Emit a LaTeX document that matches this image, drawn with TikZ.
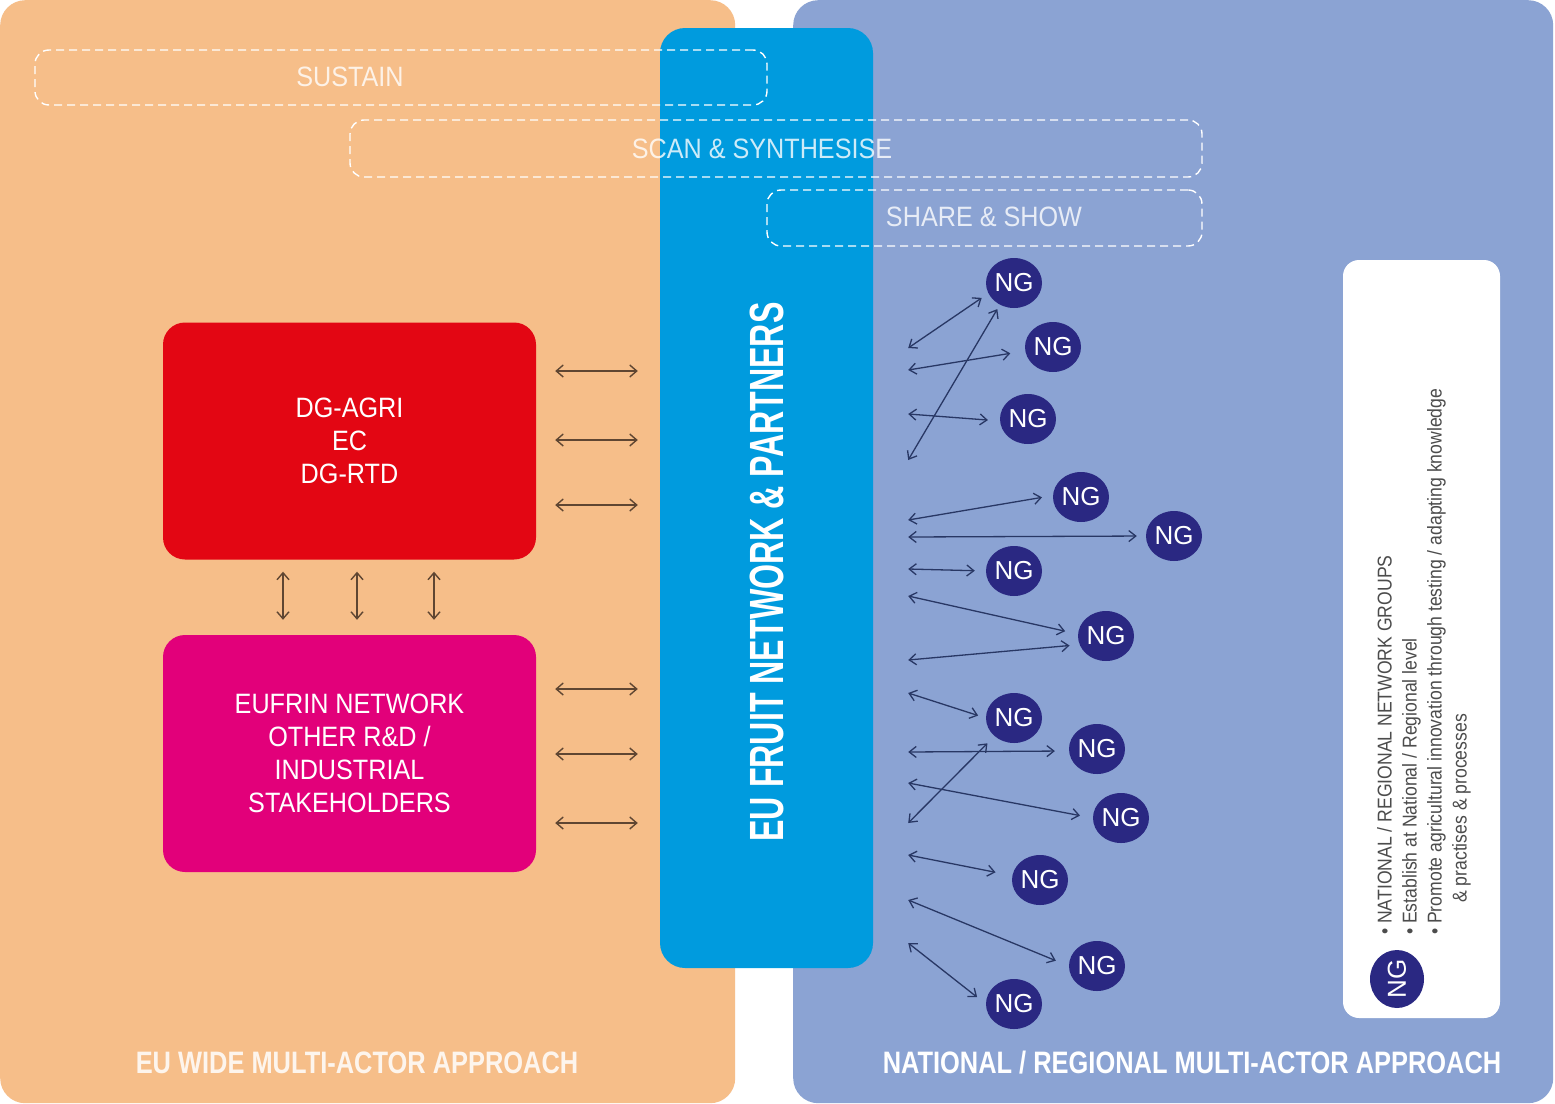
\documentclass[tikz,border=0pt]{standalone}
\usepackage{fontspec}
\setmainfont{Liberation Sans}
\newfontfamily\boxfont[FakeStretch=0.9]{Liberation Sans}
\newfontfamily\barfont[FakeStretch=0.67]{Liberation Sans}
\newfontfamily\bandfont[FakeStretch=0.82]{Liberation Sans}
\newfontfamily\legendfont[FakeStretch=0.88]{Liberation Sans}
\usetikzlibrary{arrows.meta,shapes.geometric,positioning}

\definecolor{euorange}{RGB}{246,190,137}
\definecolor{natblue}{RGB}{139,163,211}
\definecolor{fruitcyan}{RGB}{0,155,222}
\definecolor{dgred}{RGB}{227,6,19}
\definecolor{rdpink}{RGB}{226,0,122}
\definecolor{ngnavy}{RGB}{42,40,130}
\definecolor{linkbrown}{RGB}{95,70,50}
\definecolor{linkblue}{RGB}{40,55,100}

\tikzset{
  panel/.style={rectangle, rounded corners=25pt, inner sep=0pt, anchor=north west},
  phasebox/.style={rectangle, rounded corners=14pt, draw=white, line width=1.4pt,
    dash pattern=on 8pt off 5pt, inner sep=0pt},
  phasetext/.style={text=white, text opacity=0.8, font=\boxfont\fontsize{28}{28}\selectfont},
  actorbox/.style={rectangle, rounded corners=22pt, minimum width=373pt, minimum height=237pt,
    text=white, align=center, font=\boxfont\fontsize{28}{33}\selectfont},
  eulink/.style={draw=linkbrown, line width=1.4pt, >={Straight Barb[length=7pt,width=12pt]}, <->},
  nglink/.style={draw=linkblue, line width=1.3pt, >={Straight Barb[length=7pt,width=11pt]}, <->},
  ng/.style={ellipse, fill=ngnavy, minimum width=56pt, minimum height=50pt, inner sep=0pt,
    text=white, font=\fontsize{26}{26}\selectfont},
  band/.style={font=\bandfont\bfseries\fontsize{31}{31}\selectfont}
}

\begin{document}
\begin{tikzpicture}[x=1pt,y=-1pt]
  \useasboundingbox (0,0) rectangle (1555,1103);
  \fill[white] (0,0) rectangle (1555,1103);
  % the two sides and the network bar
  \node[panel, fill=euorange, minimum width=735pt, minimum height=1103pt] (euside) at (0,0) {};
  \node[panel, fill=natblue, minimum width=760pt, minimum height=1103pt] (natside) at (793,0) {};
  \node[rectangle, rounded corners=25pt, fill=fruitcyan, minimum width=213pt, minimum height=940pt] (fruitbar) at (766.5,498) {};
  \node[rotate=90, text=white, font=\barfont\bfseries\fontsize{48}{48}\selectfont] (fruitname) at (767,572) {EU FRUIT NETWORK \& PARTNERS};

  % phases
  \node[phasebox, minimum width=732pt, minimum height=55pt] (sustain) at (401,77.5) {};
  \node[phasebox, minimum width=852pt, minimum height=57pt] (scan) at (776,148.5) {};
  \node[phasebox, minimum width=435pt, minimum height=56pt] (share) at (984.5,218) {};
  \node[phasetext] (sustaintext) at (350,77) {SUSTAIN};
  \node[phasetext] (scantext) at (762,149) {SCAN \& SYNTHESISE};
  \node[phasetext] (sharetext) at (984,217) {SHARE \& SHOW};

  % EU wide actors
  \node[actorbox, fill=dgred] (dg) at (349.5,441) {DG-AGRI\\EC\\DG-RTD};
  \node[actorbox, fill=rdpink] (rd) at (349.5,753.5) {EUFRIN NETWORK\\OTHER R\&D /\\INDUSTRIAL\\STAKEHOLDERS};
  \foreach \y in {371, 440, 505}
    \draw[eulink, shorten <=19pt, shorten >=22pt] (dg.east |- 0,\y) -- (fruitbar.west |- 0,\y);
  \foreach \y in {689, 754, 823}
    \draw[eulink, shorten <=19pt, shorten >=22pt] (rd.east |- 0,\y) -- (fruitbar.west |- 0,\y);
  \foreach \x in {283, 357, 434}
    \draw[eulink, shorten <=12pt, shorten >=15pt] (dg.south -| \x,0) -- (rd.north -| \x,0);

  % national / regional groups
  \foreach \name/\pos in {ng1/{1014,283}, ng2/{1053,347}, ng3/{1028,419}, ng4/{1081,497},
      ng5/{1174,536}, ng6/{1014,571}, ng7/{1106,636}, ng8/{1014,718}, ng9/{1097,749},
      ng10/{1121,818}, ng11/{1040,880}, ng12/{1097,966}, ng13/{1014,1004}}
    \node[ng] (\name) at (\pos) {NG};
  \coordinate (ngstart) at ([xshift=35pt]fruitbar.east);
  \foreach \ly/\ng/\ang/\gap in {348/ng1/202/8pt, 370/ng2/188/15pt, 414/ng3/184/12pt,
      460/ng1/237/5pt, 520/ng4/177/11pt, 537/ng5/180/9pt, 569/ng6/180/11pt, 596/ng7/176/13pt,
      660/ng7/198/10pt, 693/ng8/180/8pt, 752/ng9/184/14pt, 823/ng8/223/10pt, 783/ng10/180/13pt,
      855/ng11/171/17pt, 900/ng12/180/14pt, 943/ng13/180/11pt}
    \draw[nglink, shorten >=\gap] (ngstart |- 0,\ly) -- (\ng.\ang);

  % key
  \node[rectangle, rounded corners=16pt, fill=white, minimum width=157pt, minimum height=758pt] (legend) at (1421.5,639) {};
  \node[ng, rotate=90, minimum width=58pt, minimum height=54pt] (ngkey) at (1397,979) {NG};
  \node[rotate=90, anchor=north west, inner sep=0pt, align=left, text=black!70,
    font=\legendfont\fontsize{20}{25}\selectfont] (legendtext) at (1377,935)
    {\textbullet\ NATIONAL / REGIONAL NETWORK GROUPS\\
     \textbullet\ Establish at National / Regional level\\
     \textbullet\ Promote agricultural innovation through testing / adapting knowledge\\
     \hspace{32pt}\& practises \& processes};

  % approaches
  \node[band, text=white, text opacity=0.85] (eulabel) at (357,1063) {EU WIDE MULTI-ACTOR APPROACH};
  \node[band, text=white] (natlabel) at (1192,1063) {NATIONAL / REGIONAL MULTI-ACTOR APPROACH};
\end{tikzpicture}
\end{document}
